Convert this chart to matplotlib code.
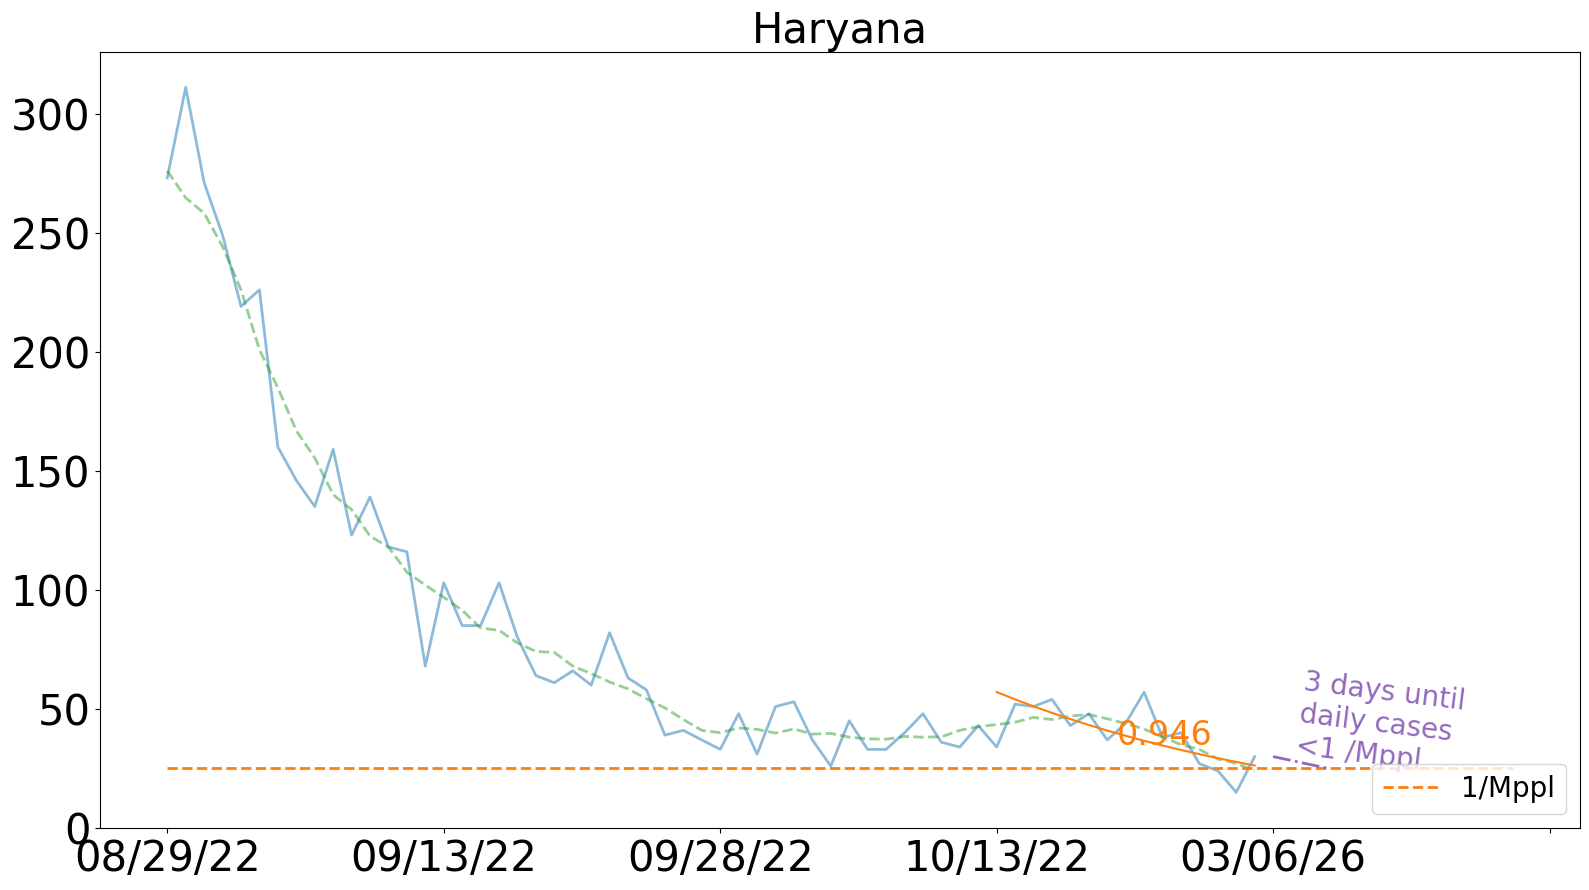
import numpy as np
import pandas as pd
import matplotlib
matplotlib.use("Agg")
import matplotlib.pyplot as plt

# ---- data ----
days = list(range(60))
daily_cases = [273, 311, 271, 249, 219, 226, 160, 146, 135, 159,
               123, 139, 118, 116, 68, 103, 85, 85, 103, 80,
               64, 61, 66, 60, 82, 63, 58, 39, 41, 37,
               33, 48, 31, 51, 53, 37, 26, 45, 33, 33,
               40, 48, 36, 34, 43, 34, 52, 51, 54, 43,
               48, 37, 44, 57, 38, 40, 27, 24, 15, 30]
threshold = 25            # 1 case per million people per day
threshold_span = [0, 73]
fit_start_day = 45
fit_end_day = 59
fit_start_value = 57.1
daily_ratio = 0.946
proj_days = [60, 63]
proj_values = [30, 25]
tick_positions = [0, 15, 30, 45, 60, 75]
tick_labels = ['08/29/22', '09/13/22', '09/28/22', '10/13/22', '03/06/26', '']
title = 'Haryana'

# ---- figure ----
fig = plt.figure(figsize=(15.89, 8.90), dpi=100)
ax = fig.add_axes([100/1589, 1-828/890, 1480/1589, 776/890])

s = pd.Series(daily_cases, index=days)
rolling = s.rolling(7, center=True, min_periods=1).mean()

ax.plot(days, daily_cases, color='tab:blue', alpha=0.5, lw=2)
ax.plot(days, rolling.values, color='tab:green', alpha=0.5, lw=2, ls='--')
ax.plot(threshold_span, [threshold, threshold], color='tab:orange', lw=2,
        ls='--', label='1/Mppl')

fit_x = np.arange(fit_start_day, fit_end_day + 1)
fit_y = fit_start_value * daily_ratio ** (fit_x - fit_start_day)
ax.plot(fit_x, fit_y, color='tab:orange', lw=1.5)
ax.text(51.5, 35, f'{daily_ratio:.3f}', color='tab:orange', fontsize=24,
        ha='left', va='baseline')

ax.plot(proj_days, proj_values, color='tab:purple', lw=2, ls='-.')
ax.text(65.8, 43.6, '3 days until\ndaily cases\n<1 /Mppl', color='tab:purple',
        fontsize=20, rotation=-7, ha='center', va='center',
        multialignment='left')

ax.set_xticks(tick_positions)
ax.set_xticklabels(tick_labels)
ax.tick_params(axis='both', labelsize=30)
ax.set_xlim(-3.65, 76.65)
ax.set_ylim(0, 325.85)
ax.set_title(title, fontsize=30)
ax.legend(loc='lower right', fontsize=20)

fig.savefig('out.png', dpi=100)
